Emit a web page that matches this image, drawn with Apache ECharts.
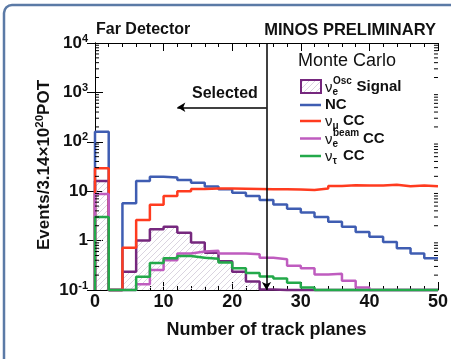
<!DOCTYPE html>
<html>
<head>
<meta charset="utf-8">
<script src="https://cdn.jsdelivr.net/npm/echarts@6.0.0/dist/echarts.min.js"></script>
<style>
  html, body { margin: 0; padding: 0; background: #fff; }
  #main { width: 451px; height: 359px; }
</style>
</head>
<body>
<div id="main"></div>
<script>
// bins of 2 track planes, 0..50
var binEdges = [0, 2, 4, 6, 8, 10, 12, 14, 16, 18, 20, 22, 24, 26, 28, 30, 32, 34, 36, 38, 40, 42, 44, 46, 48, 50];

var seriesNames = ["signal", "NC", "numuCC", "nuebeamCC", "nutauCC"];

var signal = [16, 0, 0.235, 1.0, 1.69, 1.91, 1.45, 0.91, 0.57, 0.38, 0.235, 0.148, 0.102, 0, 0, 0, 0, 0, 0, 0, 0, 0, 0, 0, 0];
var nc = [160, 0, 5.7, 16.1, 19.7, 19.0, 16.8, 14.8, 12.5, 10.9, 9.3, 8.0, 6.6, 5.4, 4.4, 3.7, 3.0, 2.4, 1.9, 1.5, 1.2, 0.94, 0.70, 0.55, 0.44];
var numuCC = [29, 0, 0.72, 2.6, 5.3, 8.0, 10.0, 11.1, 11.4, 11.3, 11.2, 11.1, 11.0, 11.0, 10.8, 10.6, 11.3, 12.7, 13.2, 13.1, 13.0, 13.5, 12.6, 13.0, 12.6];
var nueBeamCC = [8.8, 0, 0, 0.13, 0.254, 0.40, 0.55, 0.60, 0.62, 0.55, 0.55, 0.53, 0.45, 0.42, 0.31, 0.275, 0.205, 0.213, 0.154, 0.113, 0, 0, 0, 0, 0];
var nutauCC = [3.0, 0, 0, 0.186, 0.35, 0.44, 0.49, 0.45, 0.43, 0.36, 0.275, 0.22, 0.187, 0.17, 0.14, 0.113, 0, 0, 0, 0, 0, 0, 0, 0, 0];

var yTickExps = [-1, 0, 1, 2, 3, 4];
var xMin = 0, xMax = 50, yMin = 0.1, yMax = 10000;
var cutValue = 25;

var colors = {
  signal: "#76287e",
  NC: "#3f5db2",
  numuCC: "#ff3b1f",
  nuebeamCC: "#bf5cbf",
  nutauCC: "#23a94a"
};

var font = "Liberation Sans, Arial, Helvetica, sans-serif";

// histogram -> step points (left edge of each bin), empty bins sit on the axis floor
function stepData(vals) {
  var pts = [[binEdges[0], yMin]];
  for (var i = 0; i < vals.length; i++) {
    pts.push([binEdges[i], Math.max(vals[i], yMin)]);
  }
  pts.push([binEdges[vals.length], Math.max(vals[vals.length - 1], yMin)]);
  return pts;
}

function hatch() {
  var c = document.createElement("canvas");
  c.width = 6;
  c.height = 6;
  var g = c.getContext("2d");
  g.strokeStyle = "#d6cfdc";
  g.lineWidth = 0.9;
  g.beginPath();
  g.moveTo(-1, 7); g.lineTo(7, -1);
  g.moveTo(-4, 4); g.lineTo(4, -4);
  g.moveTo(2, 10); g.lineTo(10, 2);
  g.stroke();
  return c;
}
var hatchPattern = { image: hatch(), repeat: "repeat" };

// minor log ticks 2..9 per decade
var yMinor = [];
for (var k = yTickExps[0]; k < yTickExps[yTickExps.length - 1]; k++) {
  for (var m = 2; m <= 9; m++) yMinor.push([xMin, m * Math.pow(10, k)]);
}

function yLabel(v) {
  var e = Math.round(Math.log10(v));
  if (e === 0) return "{b|1}";
  if (e === 1) return "{b|10}";
  return "{b|10}{s|" + e + "}";
}

var chart = echarts.init(document.getElementById("main"));

function lineSeries(name, vals, extra) {
  var s = {
    name: name,
    type: "line",
    step: "end",
    data: stepData(vals),
    symbol: "none",
    clip: false,
    silent: true,
    lineStyle: { color: colors[name], width: 2.5 },
    z: 3
  };
  for (var key in extra) s[key] = extra[key];
  return s;
}

// legend rows
var legendRows = [
  { y: 86.5, sup: "Osc", sub: "e", label: "Signal", box: true },
  { y: 105, label: "NC", color: colors.NC, plain: true },
  { y: 121, sub: "\u03bc", label: "CC", color: colors.numuCC },
  { y: 138.5, sup: "beam", sub: "e", label: "CC", color: colors.nuebeamCC },
  { y: 156, sub: "\u03c4", label: "CC", color: colors.nutauCC }
];

var graphics = [
  {
    type: "rect",
    shape: { x: 4, y: 5, width: 470, height: 380, r: 8 },
    style: { fill: null, stroke: "#5b7aa6", lineWidth: 2.5 },
    silent: true
  },
  {
    type: "text", left: 96, top: 22,
    style: { text: "Far Detector", font: "bold 16px " + font, fill: "#111" }
  },
  {
    type: "text", right: 15, top: 22,
    style: { text: "MINOS PRELIMINARY", font: "bold 16.5px " + font, fill: "#111" }
  },
  {
    type: "text", left: 192, top: 86,
    style: { text: "Selected", font: "bold 16px " + font, fill: "#111" }
  },
  {
    type: "text", left: 298, top: 52,
    style: { text: "Monte Carlo", font: "18px " + font, fill: "#111" }
  },
  {
    type: "text", x: 44, y: 165, rotation: Math.PI / 2,
    style: {
      text: "{b|Events/3.14\u00d710}{s|20}{b|POT}",
      align: "center", verticalAlign: "middle",
      rich: {
        b: { fontFamily: font, fontWeight: "bold", fontSize: 17, fill: "#111" },
        s: { fontFamily: font, fontWeight: "bold", fontSize: 11.5, fill: "#111", padding: [0, 0, 8, 0] }
      }
    }
  }
];

legendRows.forEach(function (r) {
  if (r.box) {
    graphics.push({
      type: "rect",
      shape: { x: 301, y: r.y - 6.5, width: 20, height: 13 },
      style: { fill: hatchPattern, stroke: colors.signal, lineWidth: 2 }
    });
  } else {
    graphics.push({
      type: "line",
      shape: { x1: 300, y1: r.y, x2: 321, y2: r.y },
      style: { stroke: r.color, lineWidth: 2.5 }
    });
  }
  var x = 325;
  if (r.plain) {
    graphics.push({
      type: "text", x: x, y: r.y,
      style: { text: r.label, font: "bold 15px " + font, fill: "#111", verticalAlign: "middle" }
    });
    return;
  }
  graphics.push({
    type: "text", x: x, y: r.y + 1,
    style: { text: "\u03bd", font: "15px " + font, fill: "#111", verticalAlign: "middle" }
  });
  var w = 0;
  if (r.sup) {
    graphics.push({
      type: "text", x: x + 8, y: r.y - 5,
      style: { text: r.sup, font: "bold 10px " + font, fill: "#111", verticalAlign: "middle" }
    });
    w = r.sup.length * 6.5;
  }
  if (r.sub) {
    graphics.push({
      type: "text", x: x + 7.5, y: r.y + 5.5,
      style: { text: r.sub, font: "bold 10px " + font, fill: "#111", verticalAlign: "middle" }
    });
    w = Math.max(w, 6);
  }
  graphics.push({
    type: "text", x: x + 8 + w + 4, y: r.y,
    style: { text: r.label, font: "bold 15px " + font, fill: "#111", verticalAlign: "middle" }
  });
});

var xAxisBase = {
  type: "value",
  min: xMin,
  max: xMax,
  interval: 10,
  axisLine: { lineStyle: { color: "#000", width: 1 } },
  axisTick: { inside: true, length: 8, lineStyle: { color: "#000" } },
  minorTick: { show: true, splitNumber: 5, length: 4, lineStyle: { color: "#000" } },
  splitLine: { show: false }
};

var yAxisBase = {
  type: "log",
  logBase: 10,
  min: yMin,
  max: yMax,
  axisLine: { show: true, lineStyle: { color: "#000", width: 1 } },
  axisTick: { show: true, inside: true, length: 8, lineStyle: { color: "#000" } },
  splitLine: { show: false }
};

var option = {
  animation: false,
  backgroundColor: "#fff",
  grid: { left: 95, right: 11, top: 43, bottom: 69 },
  xAxis: [
    Object.assign({}, xAxisBase, {
      position: "bottom",
      name: "Number of track planes",
      nameLocation: "middle",
      nameGap: 31,
      nameTextStyle: { fontFamily: font, fontWeight: "bold", fontSize: 18, color: "#111", verticalAlign: "top" },
      axisLabel: { fontFamily: font, fontWeight: "bold", fontSize: 18, color: "#111", margin: 3 }
    }),
    Object.assign({}, xAxisBase, { position: "top", axisLabel: { show: false } })
  ],
  yAxis: [
    Object.assign({}, yAxisBase, {
      position: "left",
      axisLabel: {
        margin: 7,
        formatter: yLabel,
        rich: {
          b: { fontFamily: font, fontWeight: "bold", fontSize: 17, color: "#111" },
          s: { fontFamily: font, fontWeight: "bold", fontSize: 11, color: "#111", padding: [0, 0, 9, 0] }
        }
      }
    }),
    Object.assign({}, yAxisBase, { position: "right", axisLabel: { show: false } })
  ],
  graphic: graphics,
  series: [
    lineSeries("signal", signal, {
      areaStyle: { color: hatchPattern, origin: "start", opacity: 1 },
      z: 2
    }),
    lineSeries("NC", nc),
    lineSeries("numuCC", numuCC),
    lineSeries("nuebeamCC", nueBeamCC),
    lineSeries("nutauCC", nutauCC, {
      markLine: {
        silent: true,
        symbol: ["none", "arrow"],
        symbolSize: [7, 8],
        label: { show: false },
        lineStyle: { color: "#000", width: 1.5, type: "solid" },
        data: [
          [{ coord: [cutValue, yMax] }, { coord: [cutValue, yMin] }],
          [{ coord: [cutValue, 500] }, { coord: [12, 500] }]
        ]
      }
    }),
    {
      type: "custom",
      silent: true,
      clip: false,
      data: yMinor,
      renderItem: function (params, api) {
        var l = api.coord([xMin, api.value(1)]);
        var r = api.coord([xMax, api.value(1)]);
        return {
          type: "group",
          children: [
            { type: "line", shape: { x1: l[0], y1: l[1], x2: l[0] + 4, y2: l[1] }, style: { stroke: "#000", lineWidth: 1 } },
            { type: "line", shape: { x1: r[0], y1: r[1], x2: r[0] - 4, y2: r[1] }, style: { stroke: "#000", lineWidth: 1 } }
          ]
        };
      },
      z: 4
    }
  ]
};

chart.setOption(option);
</script>
</body>
</html>
